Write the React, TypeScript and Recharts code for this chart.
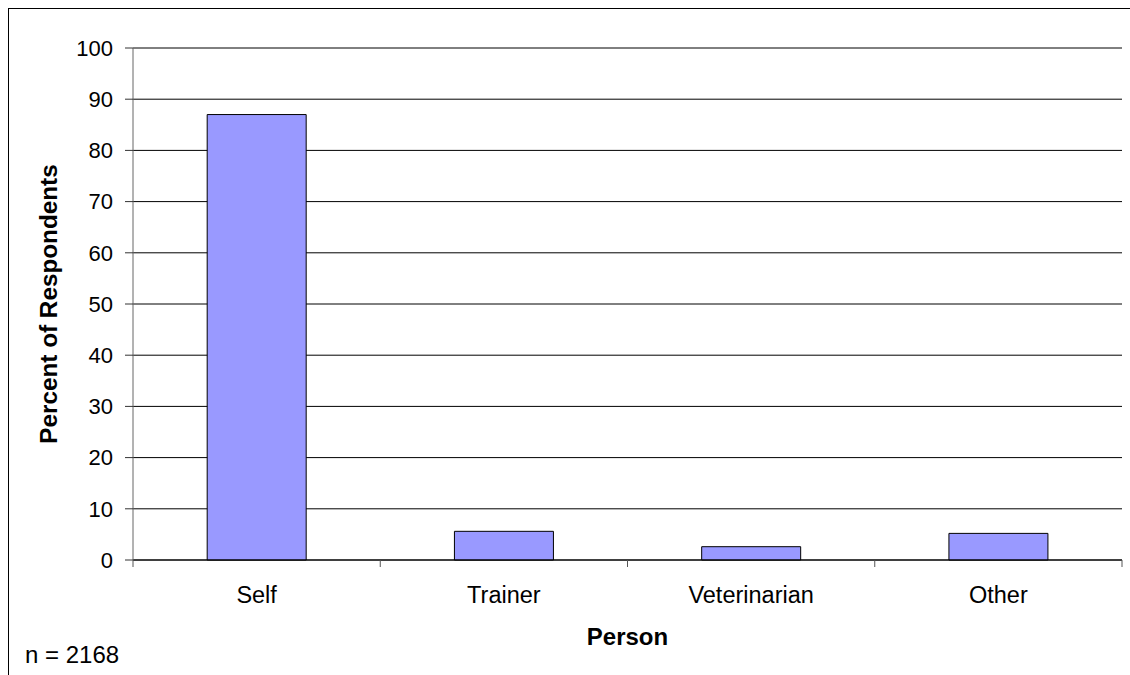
import { Bar, BarChart, CartesianGrid, Label, XAxis, YAxis } from "recharts"

const persons = ["Self", "Trainer", "Veterinarian", "Other"]
const percents = [87, 5.6, 2.6, 5.2]
const yTicks = [0, 10, 20, 30, 40, 50, 60, 70, 80, 90, 100]

const data = persons.map((name, i) => ({ name, percent: percents[i] }))

const font = "'Liberation Sans', Arial, sans-serif"
const TICK_SIZE = 7
const TICK_MARGIN = 19

// category label plus tick marks on the band edges (Excel style)
function PersonTick(props: any) {
  const { x, y, payload, width, visibleTicksCount, index } = props
  const band = width / visibleTicksCount
  const axisY = y - TICK_SIZE - TICK_MARGIN
  const left = x - band / 2
  const right = x + band / 2
  return (
    <g>
      <line x1={left} x2={left} y1={axisY} y2={axisY + TICK_SIZE} stroke="#555" />
      {index === visibleTicksCount - 1 && (
        <line x1={right} x2={right} y1={axisY} y2={axisY + TICK_SIZE} stroke="#555" />
      )}
      <text x={x} y={y} dy="0.71em" textAnchor="middle" fontSize={23.5} fill="#000" fontFamily={font}>
        {payload.value}
      </text>
    </g>
  )
}

export default function App() {
  return (
    <div style={{ position: "fixed", left: 0, top: 0, width: 1130, height: 675, overflow: "hidden", background: "#fff", fontFamily: font }}>
      <div style={{ position: "absolute", left: 8, top: 8, width: 1140, height: 700, border: "1px solid #000" }} />
      <div style={{ position: "absolute", left: 25, top: 643, fontSize: 24, lineHeight: 1, color: "#000" }}>
        n = 2168
      </div>
      <div style={{ position: "absolute", left: 0, top: 0 }}>
        <BarChart
          width={1130}
          height={675}
          data={data}
          margin={{ top: 48, right: 8, left: 8, bottom: 65 }}
          barCategoryGap="30%"
          style={{ fontFamily: font }}
        >
          <CartesianGrid vertical={false} stroke="#000" strokeWidth={1} />
          <XAxis
            dataKey="name"
            height={50}
            axisLine={{ stroke: "#000" }}
            tickLine={false}
            tickSize={TICK_SIZE}
            tickMargin={TICK_MARGIN}
            tick={<PersonTick />}
            interval={0}
          >
            <Label
              value="Person"
              position="bottom"
              offset={18}
              style={{ fontSize: 24, fontWeight: "bold", fill: "#000" }}
            />
          </XAxis>
          <XAxis
            xAxisId="top"
            orientation="top"
            height={0}
            tick={false}
            tickLine={false}
            axisLine={{ stroke: "#808080" }}
          />
          <YAxis
            domain={[0, 100]}
            ticks={yTicks}
            width={125}
            axisLine={{ stroke: "#666" }}
            tickLine={{ stroke: "#333" }}
            tickSize={8}
            tickMargin={12}
            tick={{ fontSize: 22, fill: "#000" }}
          >
            <Label
              value="Percent of Respondents"
              angle={-90}
              position="insideLeft"
              offset={40}
              textAnchor="middle"
              style={{ fontSize: 24.3, fontWeight: "bold", fill: "#000", textAnchor: "middle" }}
            />
          </YAxis>
          <YAxis
            yAxisId="frame"
            orientation="right"
            width={0}
            domain={[0, 100]}
            tick={false}
            tickLine={false}
            axisLine={{ stroke: "#808080" }}
          />
          <Bar dataKey="percent" fill="#9999FF" stroke="#000" strokeWidth={1} isAnimationActive={false} />
        </BarChart>
      </div>
    </div>
  )
}
